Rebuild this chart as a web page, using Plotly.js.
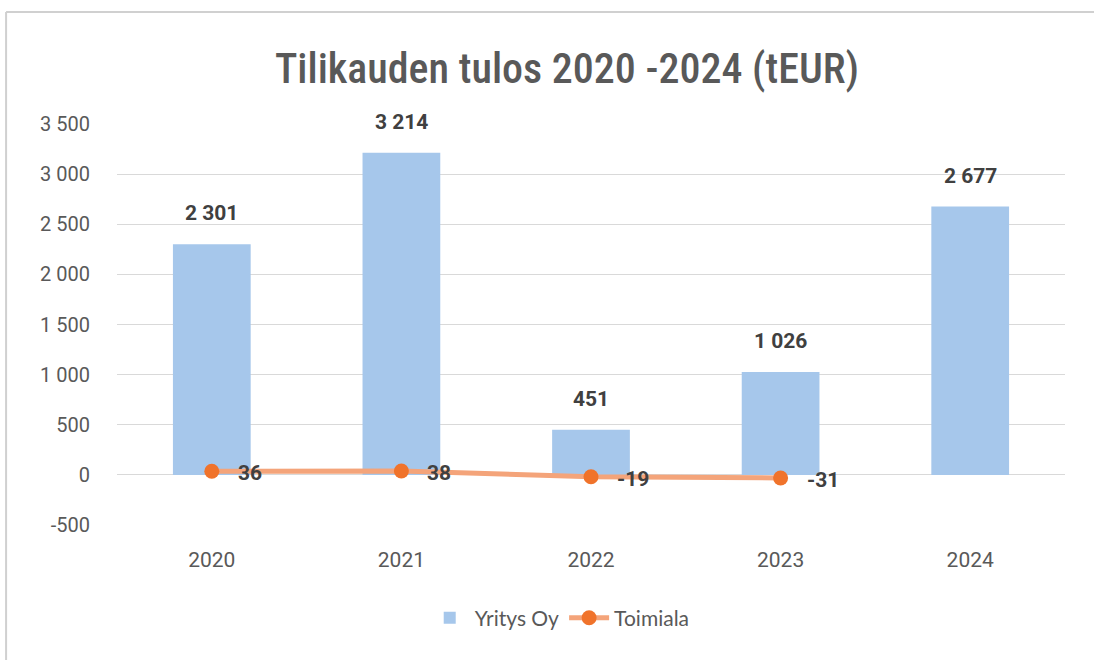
<!DOCTYPE html>
<html>
<head>
<meta charset="utf-8">
<script src="https://cdn.plot.ly/plotly-3.0.1.min.js"></script>
<style>html,body{margin:0;padding:0;background:#fff;}#chart{width:1094px;height:660px;}</style>
</head>
<body>
<div id="chart"></div>
<script>
const years = ['2020', '2021', '2022', '2023', '2024'];
const yritysValues = [2301, 3214, 451, 1026, 2677];
const yritysLabels = ['2 301', '3 214', '451', '1 026', '2 677'];
const toimialaYears = ['2020', '2021', '2022', '2023'];
const toimialaValues = [36, 38, -19, -31];
const toimialaLabels = ['36', '38', '-19', '-31'];
const yTickVals = [-500, 0, 500, 1000, 1500, 2000, 2500, 3000, 3500];
const yTickText = ['-500', '0', '500', '1 000', '1 500', '2 000', '2 500', '3 000', '3 500'];

const labelFont = {family: 'Roboto, Arial, sans-serif', size: 21, color: '#404040', weight: 'bold'};

const traces = [
  {
    type: 'bar', name: 'Yritys Oy', x: years, y: yritysValues,
    marker: {color: '#A6C7EB'}, width: 0.41, hoverinfo: 'skip'
  },
  {
    type: 'scatter', mode: 'lines+markers', name: 'Toimiala',
    x: toimialaYears, y: toimialaValues,
    line: {color: '#F4A47A', width: 5},
    marker: {color: '#F0732B', size: 15}, cliponaxis: false, hoverinfo: 'skip'
  }
];

const barAnnotations = years.map((yr, i) => ({
  x: i, y: yritysValues[i], xref: 'x', yref: 'y', text: yritysLabels[i],
  showarrow: false, yshift: 31, font: labelFont
}));
const lineAnnotations = toimialaYears.map((yr, i) => ({
  x: i, y: toimialaValues[i], xref: 'x', yref: 'y', text: toimialaLabels[i],
  showarrow: false, xanchor: 'left', xshift: 24, yshift: -2, font: labelFont
}));

const layout = {
  width: 1094, height: 660,
  paper_bgcolor: '#ffffff', plot_bgcolor: '#ffffff',
  margin: {l: 117, r: 29, t: 124, b: 135},
  title: {
    text: 'Tilikauden tulos 2020 -2024 (tEUR)',
    x: 567 / 1094, xanchor: 'center', xref: 'container', y: 1 - 68 / 660, yanchor: 'middle', yref: 'container',
    font: {family: 'Roboto Condensed, DejaVu Sans Condensed, Liberation Sans Narrow, Roboto, sans-serif', size: 42, color: '#595959', weight: 500}
  },
  font: {family: 'Roboto, Arial, sans-serif', color: '#595959', size: 16},
  showlegend: true,
  legend: {
    orientation: 'h', x: 0.467, xanchor: 'center', y: -0.232, yanchor: 'middle',
    itemwidth: 40,
    font: {family: 'Lato, Open Sans, sans-serif', size: 21, color: '#595959'}
  },
  xaxis: {
    type: 'category', range: [-0.5, 4.5], showgrid: false, zeroline: false, showline: false,
    ticks: 'outside', ticklen: 16, tickcolor: 'rgba(0,0,0,0)',
    tickfont: {size: 21, color: '#595959'}
  },
  yaxis: {
    range: [-500, 3500], tickvals: yTickVals, ticktext: yTickText,
    showgrid: true, gridcolor: '#D9D9D9', gridwidth: 1,
    zeroline: true, zerolinecolor: '#D9D9D9', zerolinewidth: 1,
    showline: false, ticks: 'outside', ticklen: 22, tickcolor: 'rgba(0,0,0,0)',
    tickfont: {size: 20, color: '#595959'}
  },
  annotations: barAnnotations.concat(lineAnnotations),
  shapes: [
    {type: 'line', xref: 'paper', yref: 'paper', x0: -0.117, x1: 1.04, y0: 1.279, y1: 1.279, line: {color: '#D0D0D0', width: 2}},
    {type: 'line', xref: 'paper', yref: 'paper', x0: -0.117, x1: -0.117, y0: 1.279, y1: -0.34, line: {color: '#D0D0D0', width: 2}}
  ],
  bargap: 0.59
};

Plotly.newPlot('chart', traces, layout, {displayModeBar: false, staticPlot: true});
</script>
</body>
</html>
